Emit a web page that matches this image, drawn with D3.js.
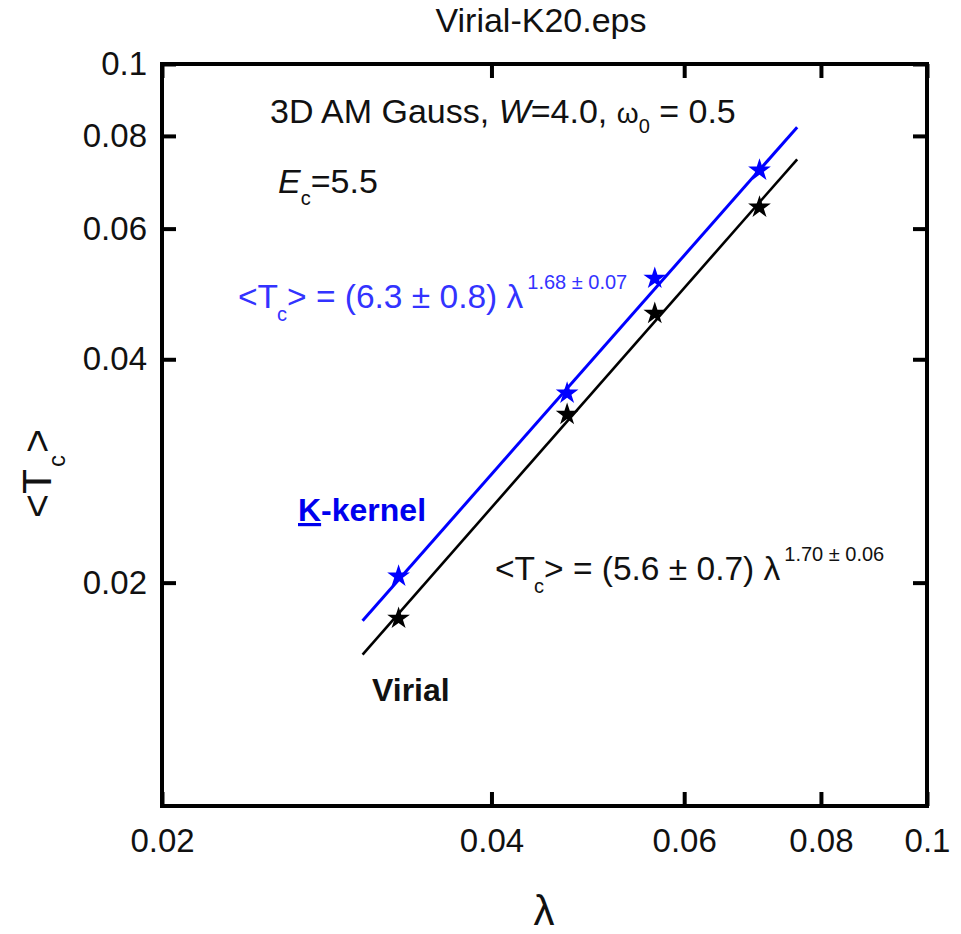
<!DOCTYPE html>
<html>
<head>
<meta charset="utf-8">
<script src="https://cdn.jsdelivr.net/npm/d3@7"></script>
<style>
  body { margin: 0; background: #fff; }
  svg { display: block; font-family: "Liberation Sans", Arial, Helvetica, sans-serif; }
</style>
</head>
<body>
<script>
// data
const lambdaPts = [0.0329, 0.0469, 0.0564, 0.0703];
const tcKernel  = [0.0204, 0.0360, 0.0514, 0.0719];
const tcVirial  = [0.0179, 0.0337, 0.0461, 0.0641];

// fitted power-law lines (end points)
const fitLambda = [0.0305, 0.0761];
const fitKernel = [0.01777, 0.0822];
const fitVirial = [0.0160, 0.0744];

const xTickValues = [0.02, 0.04, 0.06, 0.08, 0.1];
const xTickLabels = ["0.02", "0.04", "0.06", "0.08", "0.1"];
const yTickValues = [0.02, 0.04, 0.06, 0.08, 0.1];
const yTickLabels = ["0.02", "0.04", "0.06", "0.08", "0.1"];

const width = 961, height = 934;
const margin = {top: 64, right: 34, bottom: 128, left: 162};
const blue = "#0000ff", blueText = "#3333ff";

const svg = d3.select("body").append("svg")
    .attr("width", width)
    .attr("height", height);

const x = d3.scaleLog()
    .domain([0.02, 0.1])
    .range([margin.left, width - margin.right]);

const y = d3.scaleLog()
    .domain([0.01, 0.1])
    .range([height - margin.bottom, margin.top]);

const fmt = (vals, labels) => d => labels[vals.indexOf(d)];

const axisStyle = g => {
  g.select(".domain").remove();
  g.selectAll(".tick line").attr("stroke", "#000").attr("stroke-width", 4);
  g.selectAll(".tick text").attr("font-size", 33).attr("fill", "#111");
};

// left
svg.append("g")
    .attr("transform", `translate(${margin.left},0)`)
    .call(d3.axisLeft(y).tickValues(yTickValues).tickFormat(fmt(yTickValues, yTickLabels))
      .tickSizeInner(-14).tickSizeOuter(0).tickPadding(15))
    .call(axisStyle);

// right
svg.append("g")
    .attr("transform", `translate(${width - margin.right},0)`)
    .call(d3.axisRight(y).tickValues(yTickValues).tickFormat("")
      .tickSizeInner(-14).tickSizeOuter(0))
    .call(axisStyle);

// bottom
svg.append("g")
    .attr("transform", `translate(0,${height - margin.bottom})`)
    .call(d3.axisBottom(x).tickValues(xTickValues).tickFormat(fmt(xTickValues, xTickLabels))
      .tickSizeInner(-14).tickSizeOuter(0).tickPadding(23))
    .call(axisStyle);

// top
svg.append("g")
    .attr("transform", `translate(0,${margin.top})`)
    .call(d3.axisTop(x).tickValues(xTickValues).tickFormat("")
      .tickSizeInner(-14).tickSizeOuter(0))
    .call(axisStyle);

// frame
svg.append("rect")
    .attr("x", margin.left)
    .attr("y", margin.top)
    .attr("width", width - margin.left - margin.right)
    .attr("height", height - margin.top - margin.bottom)
    .attr("fill", "none")
    .attr("stroke", "#000")
    .attr("stroke-width", 4);

// fit lines
const line = d3.line()
    .x(d => x(d[0]))
    .y(d => y(d[1]));

svg.append("path")
    .datum(d3.zip(fitLambda, fitVirial))
    .attr("fill", "none")
    .attr("stroke", "#000")
    .attr("stroke-width", 2.6)
    .attr("d", line);

svg.append("path")
    .datum(d3.zip(fitLambda, fitKernel))
    .attr("fill", "none")
    .attr("stroke", blue)
    .attr("stroke-width", 3)
    .attr("d", line);

// stars
const star = d3.symbol(d3.symbolStar, 160);

svg.append("g").selectAll("path")
    .data(d3.zip(lambdaPts, tcVirial))
    .join("path")
    .attr("transform", d => `translate(${x(d[0])},${y(d[1])})`)
    .attr("d", star)
    .attr("fill", "#000");

svg.append("g").selectAll("path")
    .data(d3.zip(lambdaPts, tcKernel))
    .join("path")
    .attr("transform", d => `translate(${x(d[0])},${y(d[1])})`)
    .attr("d", star)
    .attr("fill", blue);

// title
svg.append("text")
    .attr("x", 541).attr("y", 32)
    .attr("text-anchor", "middle")
    .attr("font-size", 34)
    .attr("fill", "#111")
    .text("Virial-K20.eps");

// axis titles
svg.append("text")
    .attr("x", 544).attr("y", 925)
    .attr("text-anchor", "middle")
    .attr("font-size", 42)
    .attr("fill", "#111")
    .text("λ");

const yl = svg.append("text")
    .attr("transform", "translate(51,518) rotate(-90)")
    .attr("font-size", 41)
    .attr("fill", "#111");
yl.append("tspan").text("<T");
yl.append("tspan").attr("font-size", 24).attr("dy", 14).attr("dx", 2).text("c");
yl.append("tspan").attr("dy", -14).attr("dx", 2).text(">");

// annotations
const a1 = svg.append("text")
    .attr("x", 270).attr("y", 123)
    .attr("font-size", 34)
    .attr("fill", "#111");
a1.append("tspan").text("3D AM Gauss, ");
a1.append("tspan").attr("font-style", "italic").text("W");
a1.append("tspan").text("=4.0, ");
a1.append("tspan").attr("font-size", 28).text("ω");
a1.append("tspan").attr("font-size", 20).attr("dy", 10).text("0");
a1.append("tspan").attr("dy", -10).text(" = 0.5");

const a2 = svg.append("text")
    .attr("x", 278).attr("y", 193)
    .attr("font-size", 34)
    .attr("fill", "#111");
a2.append("tspan").attr("font-style", "italic").text("E");
a2.append("tspan").attr("font-size", 20).attr("dy", 12).text("c");
a2.append("tspan").attr("dy", -12).attr("dx", 0).text("=5.5");

function formula(px, py, color, body, sup) {
  const t = svg.append("text")
      .attr("x", px).attr("y", py)
      .attr("font-size", 33.5)
      .attr("fill", color);
  t.append("tspan").text("<T");
  t.append("tspan").attr("font-size", 20).attr("dy", 13).attr("dx", -1).text("c");
  t.append("tspan").attr("dy", -13).attr("dx", 0).text(">" + body);
  t.append("tspan").attr("font-size", 20).attr("dy", -19).attr("dx", 4).text(sup);
}
formula(238, 308, blueText, " = (6.3 ± 0.8) λ", "1.68 ± 0.07");
formula(495, 580, "#111", " = (5.6 ± 0.7) λ", "1.70 ± 0.06");

const k = svg.append("text")
    .attr("x", 298).attr("y", 521)
    .attr("font-size", 32)
    .attr("font-weight", "bold")
    .attr("fill", "#0000ee");
k.append("tspan").attr("text-decoration", "underline").text("K");
k.append("tspan").text("-kernel");

svg.append("text")
    .attr("x", 372).attr("y", 701)
    .attr("font-size", 32)
    .attr("font-weight", "bold")
    .attr("fill", "#111")
    .text("Virial");
</script>
</body>
</html>
